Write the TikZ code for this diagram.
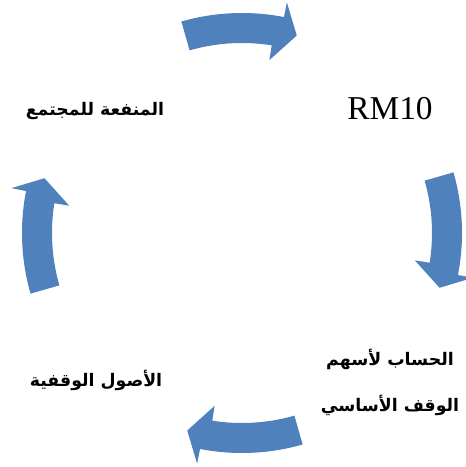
\documentclass[tikz,border=0pt]{standalone}
\usepackage{fontspec}
\setmainfont{Liberation Serif}
\newfontfamily\arabicfont[Script=Arabic]{DejaVu Sans}
\TeXXeTstate=1
\definecolor{arrowblue}{RGB}{79,129,189}
\tikzset{
  cyclearrow/.style={fill=arrowblue},
  arlabel/.style={font=\arabicfont\bfseries\fontsize{13pt}{34.5pt}\selectfont,align=center},
}
\begin{document}
\begin{tikzpicture}[x=0.75pt,y=0.75pt]
  \useasboundingbox (-242,-234) rectangle (224,233);
  % four curved arrows round the cycle
  \foreach \a in {90,0,-90,180}
    \fill[cyclearrow] (\a+16:220) arc[start angle=\a+16,end angle=\a-11,radius=220]
      -- (\a-11:235) -- (\a-15.5:205) -- (\a-9:175) -- (\a-9:190)
      arc[start angle=\a-9,end angle=\a+16,radius=190] -- cycle;
  \node[font=\fontsize{25pt}{30pt}\selectfont,anchor=base] (rm) at (148,113) {RM10};
  \node[arlabel] (benefit) at (-147,122) {\beginR المنفعة للمجتمع\endR};
  \node[arlabel] (account) at (148,-149) {\beginR الحساب لأسهم\endR\\\beginR الوقف الأساسي\endR};
  \node[arlabel] (assets) at (-146,-147) {\beginR الأصول الوقفية\endR};
\end{tikzpicture}
\end{document}
